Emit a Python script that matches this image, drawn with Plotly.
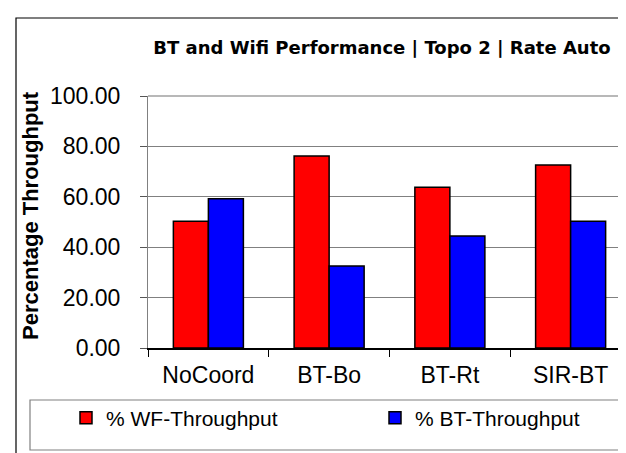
import plotly.graph_objects as go

categories = ["NoCoord", "BT-Bo", "BT-Rt", "SIR-BT"]
wf_throughput = [50.3, 76.2, 63.8, 72.6]
bt_throughput = [59.2, 32.5, 44.4, 50.3]
y_ticks = [0, 20, 40, 60, 80, 100]

W, H = 626, 453
L, R, T, B = 140, 3, 88, 113
pw = W - L - R
ph = H - T - B

def px(x):
    return (x - L) / pw

def py(y):
    return (H - B - y) / ph

fig = go.Figure()
fig.add_trace(go.Bar(x=categories, y=wf_throughput, name="% WF-Throughput", legend="legend",
                     marker=dict(color="#FF0000", line=dict(color="#000000", width=1.5))))
fig.add_trace(go.Bar(x=categories, y=bt_throughput, name="% BT-Throughput", legend="legend2",
                     marker=dict(color="#0000FF", line=dict(color="#000000", width=1.5))))

arial = "Liberation Sans, Arial, sans-serif"
leg_font = dict(family=arial, size=21, color="#000000")

fig.update_layout(
    width=W, height=H,
    margin=dict(l=L, r=R, t=T, b=B, autoexpand=False),
    paper_bgcolor="white", plot_bgcolor="white",
    barmode="group", bargap=0.42, bargroupgap=0,
    font=dict(family=arial, size=23, color="#000000"),
    title=dict(text="<b>BT and Wifi Performance | Topo 2 | Rate Auto</b>",
               font=dict(family="DejaVu Sans, sans-serif", size=18, color="#000000"),
               x=374 / W, xanchor="center", y=1 - 40 / H, yanchor="middle"),
    showlegend=True,
    legend=dict(orientation="h", x=px(58), xanchor="left", y=py(410), yanchor="middle",
                font=leg_font, bgcolor="rgba(0,0,0,0)", borderwidth=0),
    legend2=dict(orientation="h", x=px(367), xanchor="left", y=py(410), yanchor="middle",
                 font=leg_font, bgcolor="rgba(0,0,0,0)", borderwidth=0),
    xaxis=dict(type="category", range=[-0.5, 3.5], showgrid=False,
               showline=True, linecolor="#000000", linewidth=1.5,
               ticks="outside", ticklen=7, tickcolor="#000000", tickson="boundaries",
               ticklabelstandoff=6, fixedrange=True),
    yaxis=dict(range=[0, 100], tickvals=y_ticks, tickformat=".2f",
               showgrid=True, gridcolor="#808080", gridwidth=1,
               showline=True, linecolor="#808080", linewidth=1, mirror=True,
               ticks="outside", ticklen=7, tickcolor="#555555",
               ticklabelstandoff=15, zeroline=False, fixedrange=True),
    annotations=[dict(text="<b>Percentage Throughput</b>", textangle=-90,
                      xref="paper", yref="paper", x=px(22), y=py(208),
                      xanchor="center", yanchor="middle", showarrow=False,
                      font=dict(family=arial, size=22, color="#000000"))],
    shapes=[
        dict(type="rect", xref="paper", yref="paper",
             x0=px(8), x1=px(640), y0=py(470), y1=py(10),
             line=dict(color="#000000", width=1.2), fillcolor="rgba(0,0,0,0)", layer="below"),
        dict(type="rect", xref="paper", yref="paper",
             x0=px(22), x1=px(640), y0=py(442), y1=py(392),
             line=dict(color="#808080", width=1.2), fillcolor="rgba(0,0,0,0)", layer="below"),
        dict(type="line", xref="paper", yref="paper",
             x0=0, x1=1, y0=1, y1=1, line=dict(color="#A0A0A0", width=1.5)),
    ],
)

fig.write_html("out.html")
